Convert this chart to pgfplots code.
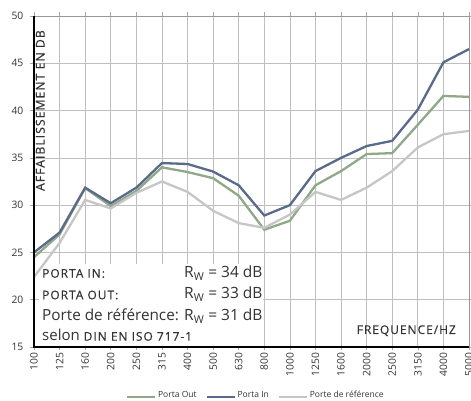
\documentclass[border=0pt]{standalone}
\usepackage{pgfplots}
\pgfplotsset{compat=1.18}
\usepackage{fontspec}
\setmainfont{Open Sans}
\newfontfamily\spaced[LetterSpace=8, FakeBold=0.4]{Open Sans}
\definecolor{cin}{HTML}{5A6A8A}
\definecolor{cout}{HTML}{8FA888}
\definecolor{cref}{HTML}{C6C6C6}
\definecolor{grid}{HTML}{E0E0E0}
\definecolor{txt}{HTML}{333333}
\begin{document}
\begin{tikzpicture}[x=1pt,y=1pt]
\path[use as bounding box] (-34,-54) rectangle (437,347);
\begin{axis}[
  at={(0,0)}, anchor=south west,
  scale only axis, width=435pt, height=331pt,
  xmin=0, xmax=17, ymin=15, ymax=50,
  xtick={0,...,17},
  xticklabels={100,125,160,200,250,315,400,500,630,800,1000,1250,1600,2000,2500,3150,4000,5000},
  ytick={15,20,...,50},
  /pgf/number format/assume math mode=true,
  tick label style={font=\fontsize{10.3}{12}\selectfont, text=txt},
  xticklabel style={rotate=90, anchor=east, inner sep=2pt},
  yticklabel style={inner sep=2pt, xshift=-5pt},
  tick align=outside, major tick length=3.5pt,
  tick style={gray!70, line width=0.6pt},
  grid=major, major grid style={grid, line width=0.7pt},
  axis line style={gray!80, line width=0.8pt},
  clip=false,
  legend style={at={(rel axis cs:0.51,-0.145)}, anchor=center, draw=none, fill=none,
    font=\fontsize{8.5}{9}\selectfont, text=txt, legend columns=3,
    inner xsep=1pt,
    /tikz/every even column/.append style={column sep=7pt}},
  legend image code/.code={\draw[#1, line width=2pt] (0pt,-2pt) -- (28pt,-2pt);},
]
\fill[white] (axis cs:0.2,15.1) rectangle (axis cs:8.95,23.8);
\addplot[cout, line width=2.3pt] coordinates {(0,24.5) (1,26.9) (2,31.8) (3,29.9) (4,31.5) (5,34.0) (6,33.5) (7,32.85) (8,31.0) (9,27.4) (10,28.35) (11,32.1) (12,33.6) (13,35.4) (14,35.5) (15,38.5) (16,41.55) (17,41.45)};
\addlegendentry{Porta Out}
\addplot[cin, line width=2.3pt] coordinates {(0,25.0) (1,27.1) (2,31.85) (3,30.2) (4,31.85) (5,34.45) (6,34.35) (7,33.55) (8,32.1) (9,28.9) (10,30.0) (11,33.6) (12,35.0) (13,36.25) (14,36.8) (15,40.1) (16,45.1) (17,46.5)};
\addlegendentry{Porta In}
\addplot[cref, line width=2.3pt] coordinates {(0,22.4) (1,26.0) (2,30.55) (3,29.65) (4,31.3) (5,32.5) (6,31.4) (7,29.4) (8,28.1) (9,27.6) (10,29.0) (11,31.4) (12,30.55) (13,31.85) (14,33.6) (15,36.1) (16,37.5) (17,37.85)};
\addlegendentry{Porte de référence}
\draw[black, line width=1.3pt] (rel axis cs:0,1) -- (rel axis cs:0,0) -- (rel axis cs:1,0);
\end{axis}
\begin{scope}[every node/.style={text=txt, inner sep=0pt}]
\node[rotate=90, anchor=south east] at (11,317) {\fontsize{12.3}{12}\selectfont\spaced AFFAIBLISSEMENT EN DB};
\node[anchor=base west] at (8,69.3) {\fontsize{12}{12}\selectfont\spaced PORTA IN:};
\node[anchor=base west] at (8,47.7) {\fontsize{12}{12}\selectfont\spaced PORTA OUT:};
\node[anchor=base west] at (8,26.3) {\fontsize{15.3}{16}\selectfont Porte de référence:};
\node[anchor=base west] at (8,6.3) {\fontsize{15}{15}\selectfont selon {\fontsize{12}{12}\selectfont\spaced DIN EN ISO 717-1}};
\node[anchor=base west] at (150,69) {\fontsize{15.5}{16}\selectfont R\textsubscript{W} = 34 dB};
\node[anchor=base west] at (150,48) {\fontsize{15.5}{16}\selectfont R\textsubscript{W} = 33 dB};
\node[anchor=base west] at (150,26) {\fontsize{15.5}{16}\selectfont R\textsubscript{W} = 31 dB};
\node[anchor=base east] at (422,13) {\fontsize{12}{12}\selectfont\spaced FREQUENCE/HZ};
\end{scope}
\end{tikzpicture}
\end{document}
